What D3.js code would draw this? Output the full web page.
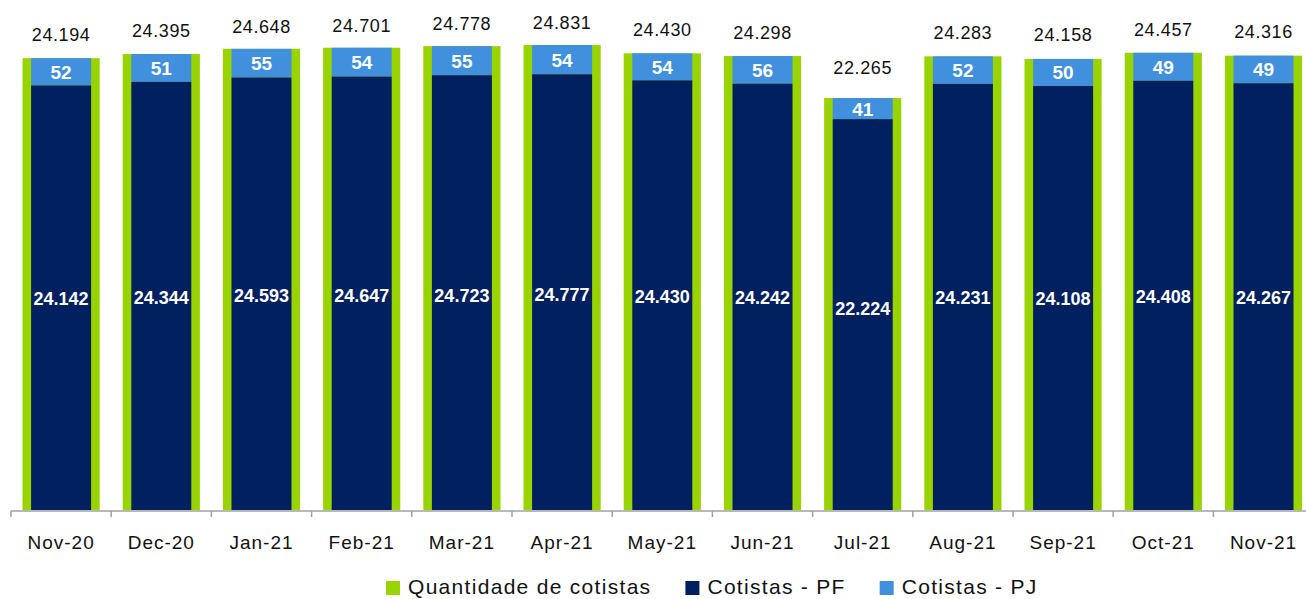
<!DOCTYPE html>
<html>
<head>
<meta charset="utf-8">
<script src="https://cdn.jsdelivr.net/npm/d3@7"></script>
<style>
  html, body { margin: 0; padding: 0; background: #fff; }
  text { font-family: "Liberation Sans", Arial, sans-serif; }
</style>
</head>
<body>
<div id="chart"></div>
<script>
  "use strict";

  var months = ["Nov-20", "Dec-20", "Jan-21", "Feb-21", "Mar-21", "Apr-21", "May-21",
                "Jun-21", "Jul-21", "Aug-21", "Sep-21", "Oct-21", "Nov-21"];
  var totals = [24194, 24395, 24648, 24701, 24778, 24831, 24430, 24298, 22265, 24283, 24158, 24457, 24316];
  var pf = [24142, 24344, 24593, 24647, 24723, 24777, 24430, 24242, 22224, 24231, 24108, 24408, 24267];
  var pj = [52, 51, 55, 54, 55, 54, 54, 56, 41, 52, 50, 49, 49];
  var legendNames = ["Quantidade de cotistas", "Cotistas - PF", "Cotistas - PJ"];

  var colors = { total: "#99D300", pf: "#002060", pj: "#4190DE" };
  var fmt = function(v) { return d3.format(",")(v).replace(/,/g, "."); };

  var width = 1306,
      height = 599,
      base = 510;

  var data = months.map(function(m, i) {
    return { month: m, total: totals[i], pf: pf[i], pj: pj[i] };
  });

  var svg = d3.select("#chart").append("svg")
      .attr("width", width)
      .attr("height", height);

  var x = d3.scaleBand()
      .domain(months)
      .range([11, 11 + months.length * 100.2])
      .paddingInner(0.23)
      .paddingOuter(0.115);

  // two value axes, as in the original (no axis lines shown)
  var yTot = d3.scaleLinear().domain([2315, 27012]).range([base, 0]);
  var yPF = d3.scaleLinear().domain([0, 29000]).range([base, 0]);

  var innerW = 60;

  var g = svg.append("g");

  // green total bars
  g.selectAll("rect.total")
      .data(data)
    .enter().append("rect")
      .attr("class", "total")
      .attr("x", function(d) { return x(d.month); })
      .attr("width", x.bandwidth())
      .attr("y", function(d) { return yTot(d.total); })
      .attr("height", function(d) { return base - yTot(d.total); })
      .attr("fill", colors.total);

  // PJ segment (light blue) on top of PF
  g.selectAll("rect.pj")
      .data(data)
    .enter().append("rect")
      .attr("class", "pj")
      .attr("x", function(d) { return x(d.month) + (x.bandwidth() - innerW) / 2; })
      .attr("width", innerW)
      .attr("y", function(d) { return yTot(d.total); })
      .attr("height", function(d) { return yPF(d.pf) - yTot(d.total); })
      .attr("fill", colors.pj);

  // PF bars
  g.selectAll("rect.pf")
      .data(data)
    .enter().append("rect")
      .attr("class", "pf")
      .attr("x", function(d) { return x(d.month) + (x.bandwidth() - innerW) / 2; })
      .attr("width", innerW)
      .attr("y", function(d) { return yPF(d.pf); })
      .attr("height", function(d) { return base - yPF(d.pf); })
      .attr("fill", colors.pf);

  var cx = function(d) { return x(d.month) + x.bandwidth() / 2; };

  // total labels
  g.selectAll("text.total")
      .data(data)
    .enter().append("text")
      .attr("class", "total")
      .attr("x", cx)
      .attr("y", function(d) { return yPF(d.total) - 44; })
      .attr("text-anchor", "middle")
      .style("font-size", "18px")
      .style("letter-spacing", "0.6px")
      .attr("fill", "#111")
      .text(function(d) { return fmt(d.total); });

  // PF labels (sit a bit off the bar centre, like the original)
  g.selectAll("text.pf")
      .data(data)
    .enter().append("text")
      .attr("class", "pf")
      .attr("x", cx)
      .attr("y", function(d) { return 0.3 * yPF(d.pf) + 279; })
      .attr("text-anchor", "middle")
      .style("font-size", "18px")
      .style("font-weight", "bold")
      .attr("fill", "#fff")
      .text(function(d) { return fmt(d.pf); });

  // PJ labels
  g.selectAll("text.pj")
      .data(data)
    .enter().append("text")
      .attr("class", "pj")
      .attr("x", cx)
      .attr("y", function(d) { return (yTot(d.total) + yPF(d.pf)) / 2 + 7; })
      .attr("text-anchor", "middle")
      .style("font-size", "19px")
      .style("font-weight", "bold")
      .attr("fill", "#fff")
      .text(function(d) { return d.pj; });

  // category axis
  var axisY = 511;
  var ax = svg.append("g");
  ax.append("line")
      .attr("x1", 11).attr("x2", width)
      .attr("y1", axisY).attr("y2", axisY)
      .attr("stroke", "#A0A0A0")
      .attr("stroke-width", 1.5);
  var step = x.step();
  ax.selectAll("line.tick")
      .data(d3.range(months.length + 1))
    .enter().append("line")
      .attr("class", "tick")
      .attr("x1", function(i) { return 11 + i * step; })
      .attr("x2", function(i) { return 11 + i * step; })
      .attr("y1", axisY).attr("y2", axisY + 6)
      .attr("stroke", "#A0A0A0")
      .attr("stroke-width", 1.5);
  ax.selectAll("text")
      .data(months)
    .enter().append("text")
      .attr("x", function(m) { return x(m) + x.bandwidth() / 2; })
      .attr("y", 549)
      .attr("text-anchor", "middle")
      .style("font-size", "19px")
      .style("letter-spacing", "1px")
      .attr("fill", "#111")
      .text(function(m) { return m; });

  // legend
  var legendColors = [colors.total, colors.pf, colors.pj];
  var leg = svg.append("g");
  var lx = 386;
  legendNames.forEach(function(name, i) {
    leg.append("rect")
        .attr("x", lx).attr("y", 581)
        .attr("width", 14).attr("height", 14)
        .attr("fill", legendColors[i]);
    var t = leg.append("text")
        .attr("x", lx + 22)
        .attr("y", 594)
        .style("font-size", "21px")
        .style("letter-spacing", "1.3px")
        .attr("fill", "#111")
        .text(name);
    lx += 22 + t.node().getComputedTextLength() + 34;
  });
</script>
</body>
</html>
